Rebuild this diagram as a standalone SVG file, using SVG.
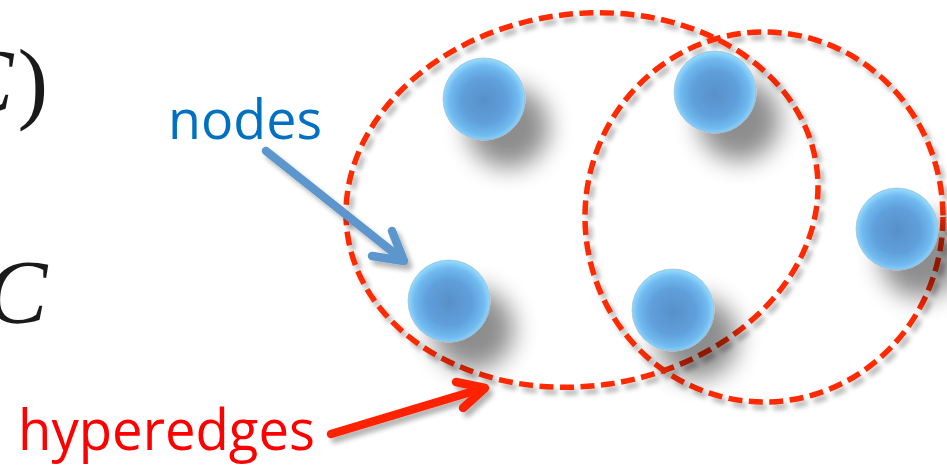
<svg xmlns="http://www.w3.org/2000/svg" width="947" height="465" viewBox="0 0 947 465">
  <style>
    .math { font-family: "Liberation Serif", "DejaVu Serif", serif; font-style: italic; font-size: 92px; fill: #1a1a1a; }
    .up { font-style: normal; }
    .lbl { font-family: "Open Sans", "Liberation Sans", sans-serif; }
    .edge { fill: none; stroke: #ff2a00; stroke-width: 5.5; stroke-dasharray: 14 6.5; }
    .ball { fill: url(#ballGrad); stroke: #9fb3c6; stroke-width: 0.6; }
    .arrowBlue { fill: none; stroke: #5b96cc; stroke-width: 8.5; stroke-linecap: round; stroke-linejoin: round; }
    .arrowRed { fill: none; stroke: #ff2200; stroke-width: 8.5; stroke-linecap: round; stroke-linejoin: round; }
  </style>
  <defs>
    <radialGradient id="ballGrad" cx="50%" cy="52%" r="50%">
      <stop offset="0" stop-color="#5890c9"/>
      <stop offset="0.55" stop-color="#5f9fdb"/>
      <stop offset="0.85" stop-color="#71baf0"/>
      <stop offset="1" stop-color="#8fd8fd"/>
    </radialGradient>
    <filter id="ballShadow" x="-80%" y="-80%" width="300%" height="300%">
      <feGaussianBlur in="SourceAlpha" stdDeviation="12"/>
      <feOffset dx="24" dy="28" result="b"/>
      <feComponentTransfer in="b" result="s"><feFuncA type="linear" slope="0.45"/></feComponentTransfer>
      <feMerge><feMergeNode in="s"/><feMergeNode in="SourceGraphic"/></feMerge>
    </filter>
    <filter id="lineShadow" x="-20%" y="-20%" width="140%" height="140%">
      <feGaussianBlur in="SourceAlpha" stdDeviation="2.5"/>
      <feOffset dx="4" dy="5" result="b"/>
      <feComponentTransfer in="b" result="s"><feFuncA type="linear" slope="0.3"/></feComponentTransfer>
      <feMerge><feMergeNode in="s"/><feMergeNode in="SourceGraphic"/></feMerge>
    </filter>
  </defs>
  <rect width="947" height="465" fill="#ffffff"/>

  <g id="math">
    <text class="math" x="-48" y="112">C<tspan class="up" dx="4">)</tspan></text>
    <text class="math" x="-14" y="323">C</text>
  </g>

  <g id="hyperedges" filter="url(#lineShadow)">
    <ellipse id="hyperedge-1" class="edge" cx="582" cy="200" rx="237" ry="186" transform="rotate(-8.5 582 200)"/>
    <ellipse id="hyperedge-2" class="edge" cx="764" cy="217" rx="179" ry="185"/>
  </g>

  <g id="nodes">
    <g id="node-1" filter="url(#ballShadow)"><circle class="ball" cx="484" cy="99" r="41"/></g>
    <g id="node-2" filter="url(#ballShadow)"><circle class="ball" cx="715" cy="92" r="41"/></g>
    <g id="node-3" filter="url(#ballShadow)"><circle class="ball" cx="897" cy="229" r="41"/></g>
    <g id="node-4" filter="url(#ballShadow)"><circle class="ball" cx="449" cy="301" r="41"/></g>
    <g id="node-5" filter="url(#ballShadow)"><circle class="ball" cx="673" cy="310" r="41"/></g>
  </g>

  <g id="connectors" filter="url(#lineShadow)">
    <g id="arrow-nodes">
      <line class="arrowBlue" x1="266" y1="151" x2="403" y2="260"/>
      <polyline class="arrowBlue" points="392,231 404,261 372,256"/>
    </g>
    <g id="arrow-hyperedges">
      <line class="arrowRed" x1="331" y1="434" x2="484" y2="388"/>
      <polyline class="arrowRed" points="456,382 485,388 463,408"/>
    </g>
  </g>

  <g id="labels">
    <text class="lbl" x="168" y="139" font-size="54" fill="#0070c0" textLength="154" lengthAdjust="spacingAndGlyphs">nodes</text>
    <text class="lbl" x="18" y="450" font-size="56" fill="#ff0000" textLength="297" lengthAdjust="spacingAndGlyphs">hyperedges</text>
  </g>
</svg>
